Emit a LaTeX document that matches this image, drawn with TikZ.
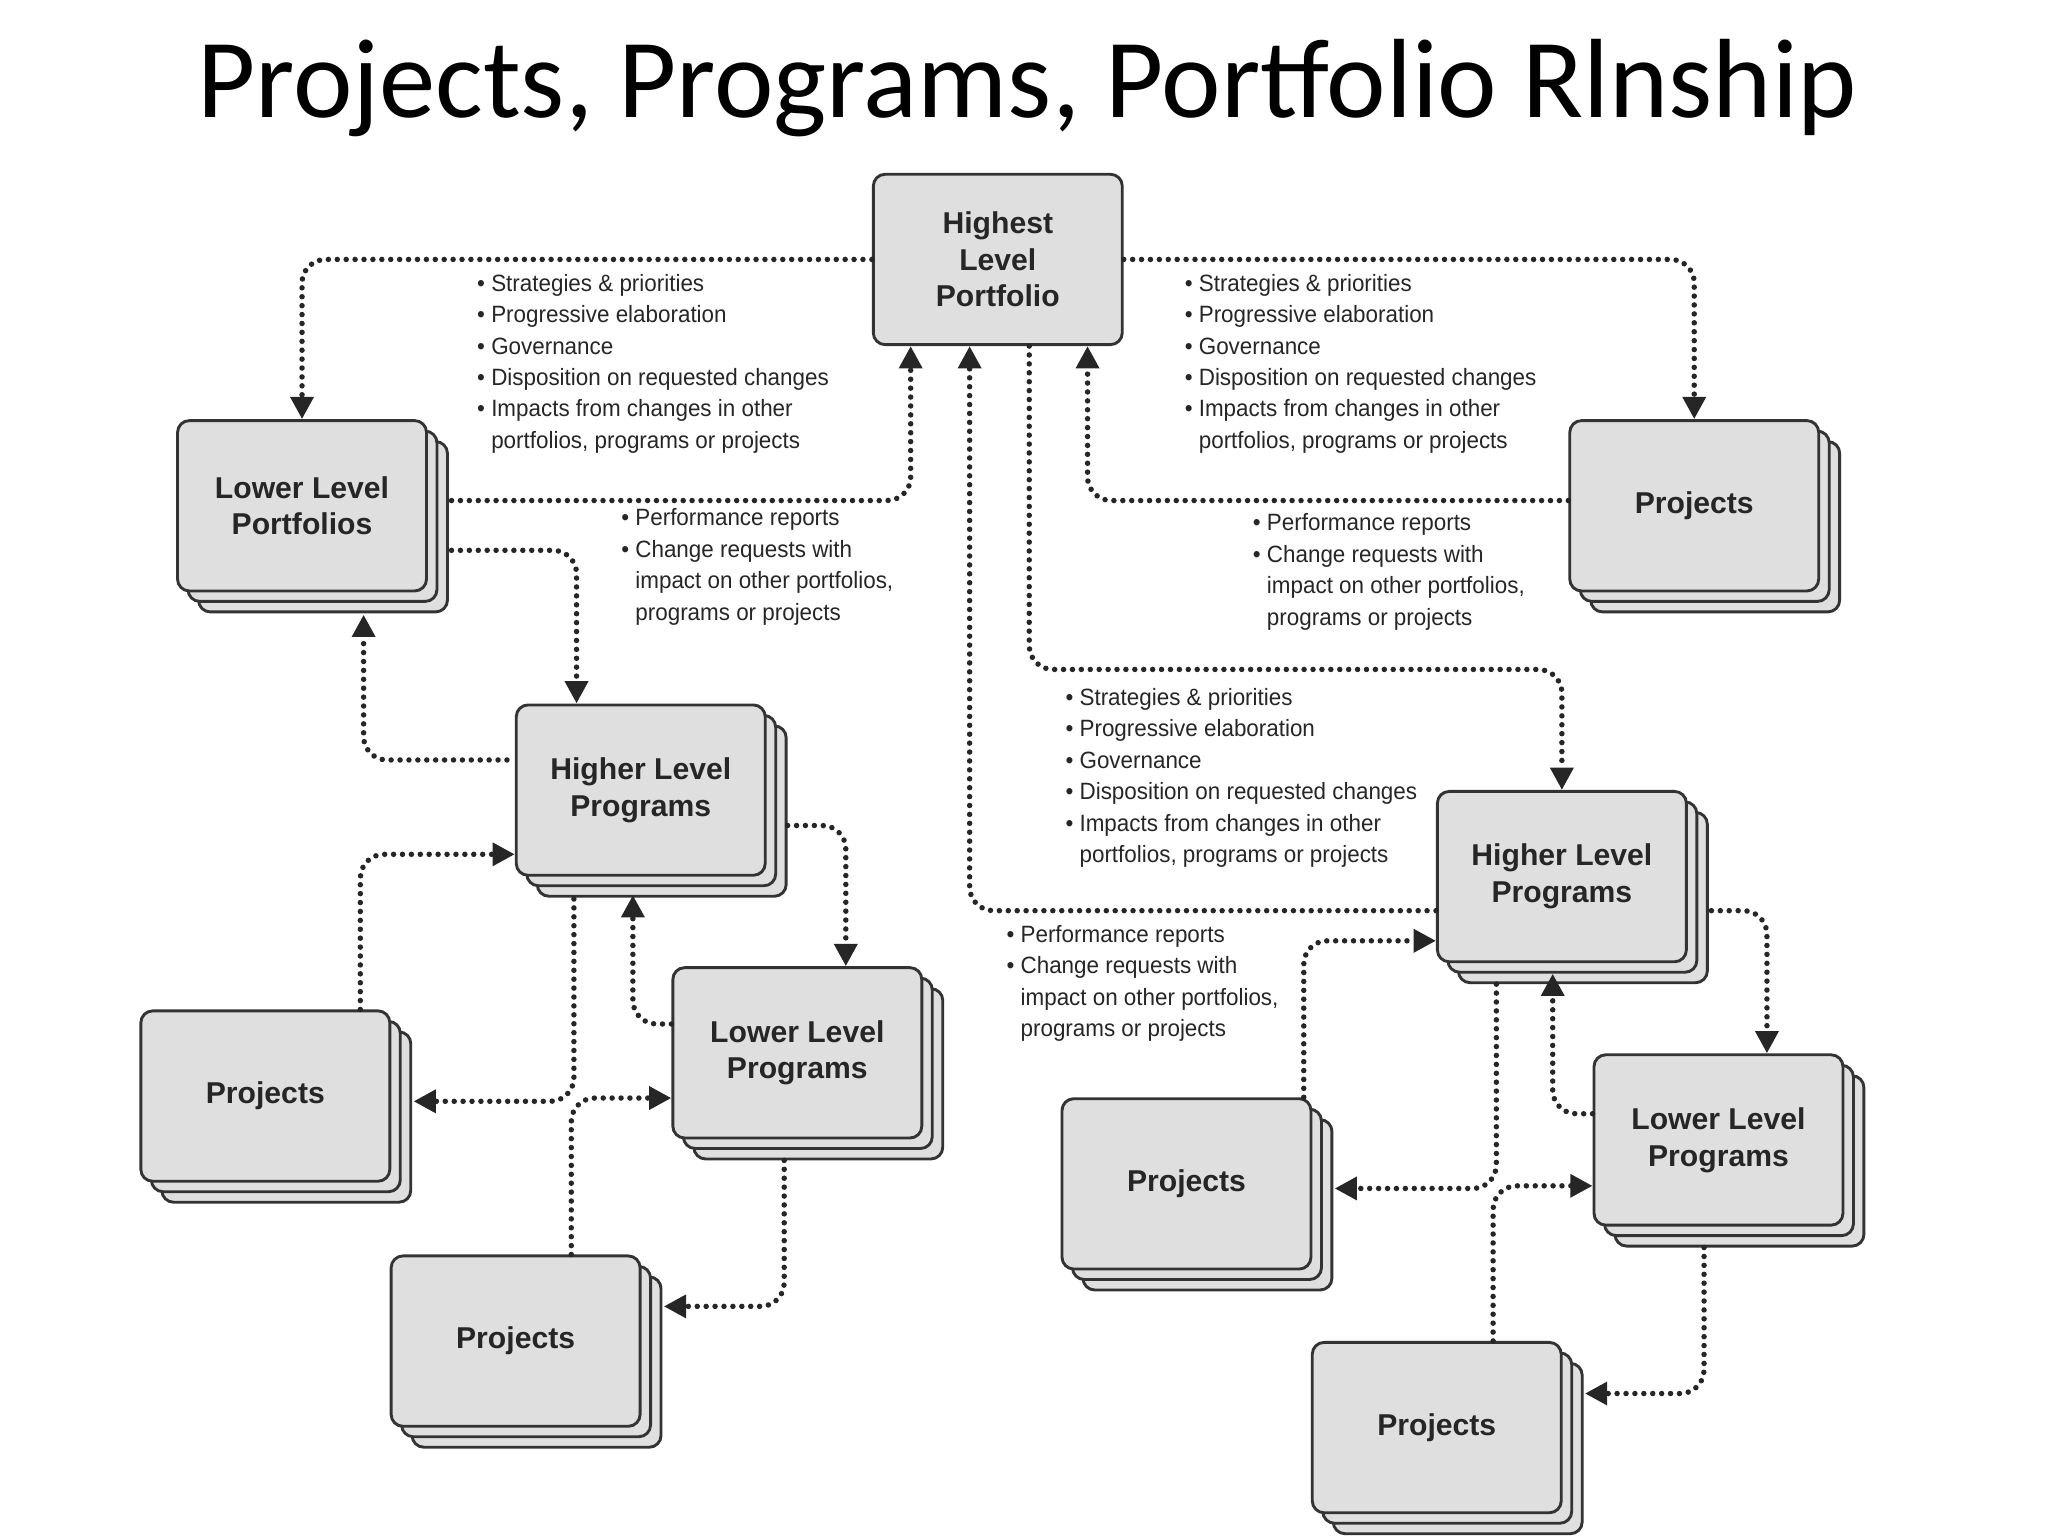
\documentclass[tikz,border=0pt]{standalone}
\usepackage{fontspec}
\setmainfont{Liberation Sans}
\newfontfamily\titlefont{Carlito}
\newfontfamily\bulletfont[FakeStretch=0.95]{Liberation Sans}
\usetikzlibrary{arrows.meta,calc}
\definecolor{boxfill}{HTML}{DFDFDF}
\definecolor{boxline}{HTML}{333333}
\tikzset{
 bx/.style={draw=boxline,line width=2.2pt,fill=boxfill,rounded corners=9pt,minimum width=190pt,minimum height=130pt,align=center,font=\fontsize{23}{28}\selectfont\bfseries,text=black!85},
 shadowbox/.style={draw=boxline,line width=2.2pt,fill=boxfill,rounded corners=9pt,minimum width=190pt,minimum height=130pt},
 conn/.style={line width=4.2pt,dash pattern=on 0pt off 6.8pt,line cap=round,rounded corners=18pt,-{Triangle[length=17pt,width=17pt]},black!85},
 bl/.style={anchor=north west,align=left,font=\bulletfont\fontsize{18}{24}\selectfont,inner sep=0pt,text=black!85}
}
\newcommand{\stk}[4]{%
 \node[shadowbox] at ($(#2,#3)+(16,16)$) {};
 \node[shadowbox] at ($(#2,#3)+(8,8)$) {};
 \node[bx] (#1) at (#2,#3) {#4};}
\newcommand{\bu}{\textbullet\ }
\newcommand{\bs}{\phantom{\textbullet\ }}
\begin{document}
\begin{tikzpicture}[x=1pt,y=-1pt]
\useasboundingbox (0,0) rectangle (1563,1172);
\fill[white] (0,0) rectangle (1563,1172);
\node[font=\titlefont\fontsize{86}{92}\selectfont,anchor=base] (title) at (784,90) {Projects, Programs, Portfolio Rlnship};
\node[bx] (H) at (761.5,198) {Highest\\Level\\Portfolio};
\stk{LLP}{230.5}{386}{Lower Level\\Portfolios}
\stk{PTR}{1293}{386}{Projects}
\stk{HLPL}{489}{603}{Higher Level\\Programs}
\stk{LLPL}{608.5}{803.5}{Lower Level\\Programs}
\stk{PL}{202.5}{836.5}{Projects}
\stk{PBL}{393.5}{1023.5}{Projects}
\stk{HLPR}{1192}{669}{Higher Level\\Programs}
\stk{LLPR}{1311.5}{870}{Lower Level\\Programs}
\stk{PMR}{905.5}{903.5}{Projects}
\stk{PBR}{1096.5}{1089.5}{Projects}
% connectors
\draw[conn] (H.west) -| (LLP.north);
\draw[conn] (H.east) -| (PTR.north);
\draw[conn] ($(LLP.east)+(18,-4)$) -| ($(H.south)+(-66.5,0)$);
\draw[conn] ($(PTR.west)+(0,-4)$) -| ($(H.south)+(68.5,0)$);
\draw[conn] ($(H.south)+(24,0)$) |- ($(HLPR.north)+(0,-92)$) -- (HLPR.north);
\draw[conn] ($(HLPR.west)+(0,26)$) -| ($(H.south)+(-21.5,0)$);
\draw[conn] ($(LLP.east)+(18,34)$) -| ($(HLPL.north)+(-49,0)$);
\draw[conn] ($(HLPL.west)+(-6,-23)$) -| ($(LLP.south)+(47,17)$);
\draw[conn] ($(PL.north)+(72.5,0)$) |- ($(HLPL.west)+(0,49)$);
\draw[conn] ($(HLPL.south)+(-51,17)$) |- ($(PL.east)+(17,4)$);
\draw[conn] ($(LLPL.west)+(0,-22)$) -| ($(HLPL.south)+(-6,14)$);
\draw[conn] ($(HLPL.east)+(16,27)$) -| ($(LLPL.north)+(37,0)$);
\draw[conn] ($(PBL.north)+(42.5,0)$) |- ($(LLPL.west)+(0,34.5)$);
\draw[conn] ($(LLPL.south)+(-10,16)$) |- ($(PBL.east)+(17,-26.5)$);
\draw[conn] ($(PMR.north)+(89.5,0)$) |- ($(HLPR.west)+(0,49)$);
\draw[conn] ($(HLPR.south)+(-50,16)$) |- ($(PMR.east)+(17,3.5)$);
\draw[conn] ($(LLPR.west)+(0,-20)$) -| ($(HLPR.south)+(-7,8)$);
\draw[conn] ($(HLPR.east)+(18,26)$) -| ($(LLPR.north)+(37,0)$);
\draw[conn] ($(PBR.north)+(43,0)$) |- ($(LLPR.west)+(0,35)$);
\draw[conn] ($(LLPR.south)+(-11,16)$) |- ($(PBR.east)+(17,-26)$);
% bullet texts
\node[bl] (tA) at (364,209) {\bu Strategies \& priorities\\\bu Progressive elaboration\\\bu Governance\\\bu Disposition on requested changes\\\bu Impacts from changes in other\\\bs portfolios, programs or projects};
\node[bl] (tB) at (904,209) {\bu Strategies \& priorities\\\bu Progressive elaboration\\\bu Governance\\\bu Disposition on requested changes\\\bu Impacts from changes in other\\\bs portfolios, programs or projects};
\node[bl] (tC) at (474,388) {\bu Performance reports\\\bu Change requests with\\\bs impact on other portfolios,\\\bs programs or projects};
\node[bl] (tD) at (956,392) {\bu Performance reports\\\bu Change requests with\\\bs impact on other portfolios,\\\bs programs or projects};
\node[bl] (tE) at (813,525) {\bu Strategies \& priorities\\\bu Progressive elaboration\\\bu Governance\\\bu Disposition on requested changes\\\bu Impacts from changes in other\\\bs portfolios, programs or projects};
\node[bl] (tF) at (768,706) {\bu Performance reports\\\bu Change requests with\\\bs impact on other portfolios,\\\bs programs or projects};
\end{tikzpicture}
\end{document}
